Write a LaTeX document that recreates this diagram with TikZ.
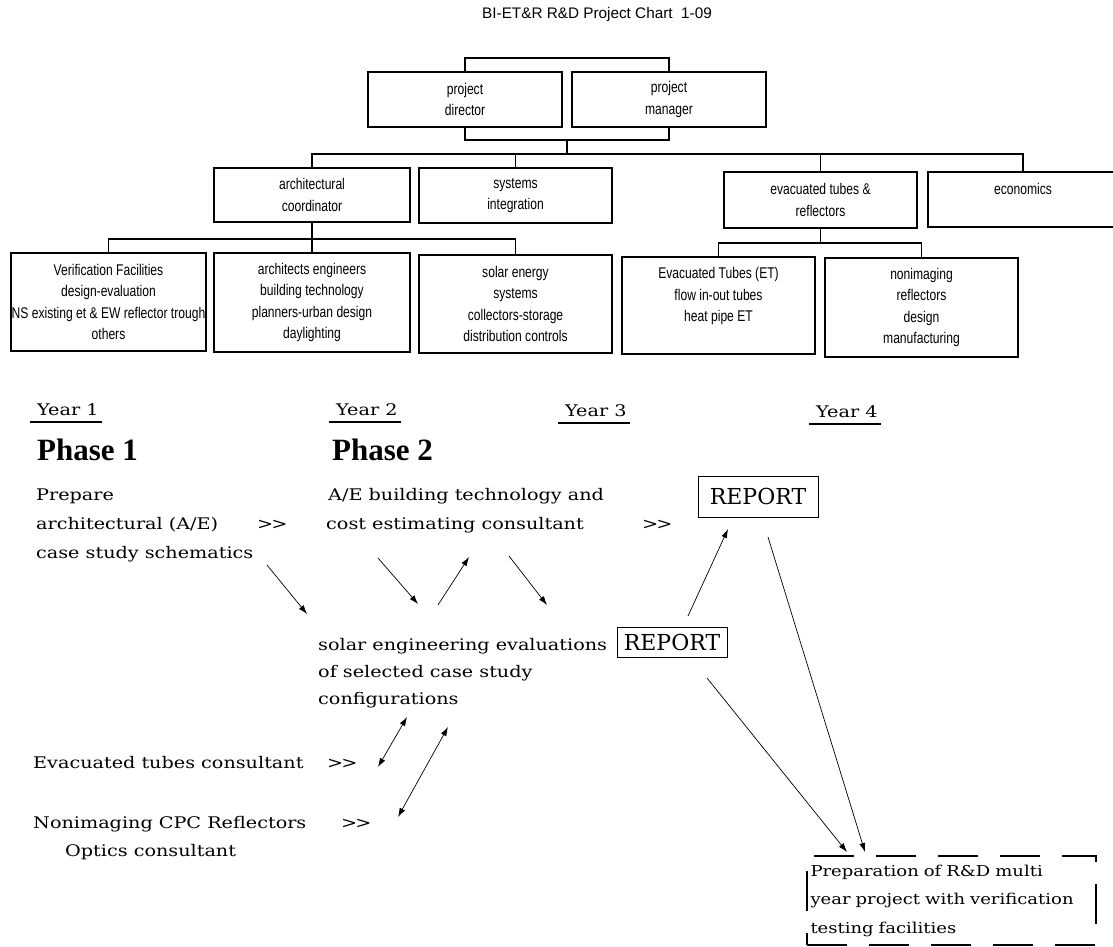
\documentclass[tikz,border=0pt]{standalone}
\usepackage{fontspec}
\setmainfont{Liberation Sans}
\newfontfamily\orgfont{Liberation Sans}[FakeStretch=0.78]
\newfontfamily\serfont{DejaVu Serif}[FakeStretch=1.2]
\newfontfamily\repfont{DejaVu Serif}
\newfontfamily\phasefont{Liberation Serif}
\usetikzlibrary{calc,arrows.meta}
\newcommand{\gtgt}{>\kern-2pt>}
\begin{document}
\begin{tikzpicture}[x=1pt,y=-1pt,
  orgbox/.style={draw, line width=1.2pt, align=center, inner sep=0pt,
    font=\orgfont\fontsize{15.5}{21.5}\selectfont},
  orgline/.style={line width=1.2pt},
  sertext/.style={inner sep=0pt, anchor=base west, font=\serfont\fontsize{16}{28}\selectfont},
  phasetext/.style={inner sep=0pt, anchor=base west, font=\phasefont\bfseries\fontsize{31}{31}\selectfont},
  repbox/.style={draw, line width=0.8pt, inner sep=0pt, font=\repfont\fontsize{22}{22}\selectfont},
  arr/.style={-{Latex[length=9pt,width=6pt]}, line width=0.7pt},
  dblarr/.style={{Latex[length=9pt,width=6pt]}-{Latex[length=9pt,width=6pt]}, line width=0.7pt},
  uline/.style={line width=1.2pt}
]
\useasboundingbox[fill=white] (0,0) rectangle (1113,947);

% title
\node[inner sep=0pt, font=\fontsize{15.3}{18}\selectfont] (title) at (597,15) {BI-ET\&R R\&D Project Chart\ \ 1-09};

% top level
\node[orgbox, minimum width=194pt, minimum height=55pt] (pd) at (465,99.5) {project\\director};
\node[orgbox, minimum width=194pt, minimum height=55pt] (pm) at (669,99.5) {project\\manager};

% second level
\node[orgbox, minimum width=196pt, minimum height=54pt] (ac) at (312,195) {architectural\\coordinator};
\node[orgbox, minimum width=193pt, minimum height=55pt] (si) at (515.5,195.5) {systems\\integration};
\node[orgbox, line width=2.2pt, minimum width=193pt, minimum height=56pt] (ev) at (820.5,200) {evacuated tubes \&\\reflectors};
\node[orgbox, minimum width=190pt, minimum height=55pt] (ec) at (1023,199.5) {economics\\\mbox{}};

% third level
\node[orgbox, minimum width=195pt, minimum height=98pt] (vf) at (108.5,302) {Verification Facilities\\design-evaluation\\NS existing et \& EW reflector trough\\others};
\node[orgbox, minimum width=196pt, minimum height=99pt] (ae) at (312,302.5) {architects engineers\\building technology\\planners-urban design\\daylighting};
\node[orgbox, minimum width=193pt, minimum height=98pt] (se) at (515.5,304) {solar energy\\systems\\collectors-storage\\distribution controls};
\node[orgbox, minimum width=193pt, minimum height=97pt] (et) at (718.5,305.5) {Evacuated Tubes (ET)\\flow in-out tubes\\heat pipe ET\\\mbox{}};
\node[orgbox, minimum width=193pt, minimum height=99pt] (ni) at (921.5,307.5) {nonimaging\\reflectors\\design\\manufacturing};

% org connectors
\coordinate (topc) at (567,58);
\coordinate (hub1) at (567,140);
\coordinate (hub2) at (567,154);
\coordinate (b2) at (312,239);
\coordinate (b3) at (820.5,243);
\draw[orgline] (pd.north) |- (topc) -| (pm.north);
\draw[orgline] (pd.south) |- (hub1) -| (pm.south);
\draw[orgline] (hub1) -- (hub2);
\draw[orgline] (ac.north) |- (hub2) -| (ec.north);
\draw[orgline] (si.north) |- (hub2);
\draw[orgline] (ev.north) |- (hub2);
\draw[orgline] (ac.south) -- (b2);
\draw[orgline] (vf.north) |- (b2) -| (se.north);
\draw[orgline] (ae.north) -- (b2);
\draw[orgline] (ev.south) -- (b3);
\draw[orgline] (et.north) |- (b3) -| (ni.north);

% years
\node[sertext] (y1) at (37,415) {Year 1};
\node[sertext] (y2) at (336,415) {Year 2};
\node[sertext] (y3) at (565,416) {Year 3};
\node[sertext] (y4) at (816,417) {Year 4};
\foreach \n in {y1,y2,y3,y4}{
  \draw[uline] ($(\n.base west)+(-7,7)$) -- ($(\n.base east)+(3,7)$);
}

% phases
\node[phasetext] (ph1) at (37,460) {Phase 1};
\node[phasetext] (ph2) at (332,460) {Phase 2};

% phase 1 text
\node[sertext] (p1) at (36,500) {Prepare};
\node[sertext] (p2) at (36,529) {architectural (A/E)};
\node[sertext] (p3) at (36,558) {case study schematics};
\node[sertext] (gt1) at (257,529) {\gtgt};

% phase 2 text
\node[sertext] (q1) at (328,500) {A/E building technology and};
\node[sertext] (q2) at (326,529) {cost estimating consultant};
\node[sertext] (gt2) at (642,529) {\gtgt};

\node[sertext] (s1) at (318,650) {solar engineering evaluations};
\node[sertext] (s2) at (318,677) {of selected case study};
\node[sertext] (s3) at (318,704) {configurations};

\node[sertext] (e1) at (33,768) {Evacuated tubes consultant};
\node[sertext] (gt3) at (327,768) {\gtgt};
\node[sertext] (n1) at (33,828) {Nonimaging CPC Reflectors};
\node[sertext] (gt4) at (341,828) {\gtgt};
\node[sertext] (n2) at (65,856) {Optics consultant};

% reports
\node[repbox, minimum width=120pt, minimum height=41pt] (rep1) at (758,496.5) {REPORT};
\node[repbox, minimum width=110pt, minimum height=30pt] (rep2) at (672,642) {REPORT};

% final box
\node[draw, line width=1.3pt, dash pattern=on 40pt off 22pt, minimum width=289pt, minimum height=89pt,
  text width=282pt, align=left, inner xsep=3.5pt, inner ysep=0pt,
  font=\serfont\fontsize{15}{28.5}\selectfont] (fin) at (951.5,900.5)
  {Preparation of R\&D multi\\year project with verification\\testing facilities};

% arrow end points
\coordinate (a1s) at (267,565); \coordinate (a1e) at (307,614);
\coordinate (a2s) at (378,558); \coordinate (a2e) at (418,604);
\coordinate (a3s) at (438,605); \coordinate (a3e) at (469,557);
\coordinate (a4s) at (509,556); \coordinate (a4e) at (547,605);
\coordinate (a5s) at (688,616); \coordinate (a5e) at (728,529);
\coordinate (a6s) at (768,537); \coordinate (a6e) at (865,852);
\coordinate (a7s) at (707,678); \coordinate (a7e) at (847,852);
\coordinate (d1s) at (378,767); \coordinate (d1e) at (407,717);
\coordinate (d2s) at (398,817); \coordinate (d2e) at (448,727);

\draw[arr] (a1s) -- (a1e);
\draw[arr] (a2s) -- (a2e);
\draw[arr] (a3s) -- (a3e);
\draw[arr] (a4s) -- (a4e);
\draw[arr] (a5s) -- (a5e);
\draw[arr] (a6s) -- (a6e);
\draw[arr] (a7s) -- (a7e);
\draw[dblarr] (d1s) -- (d1e);
\draw[dblarr] (d2s) -- (d2e);
\end{tikzpicture}
\end{document}
